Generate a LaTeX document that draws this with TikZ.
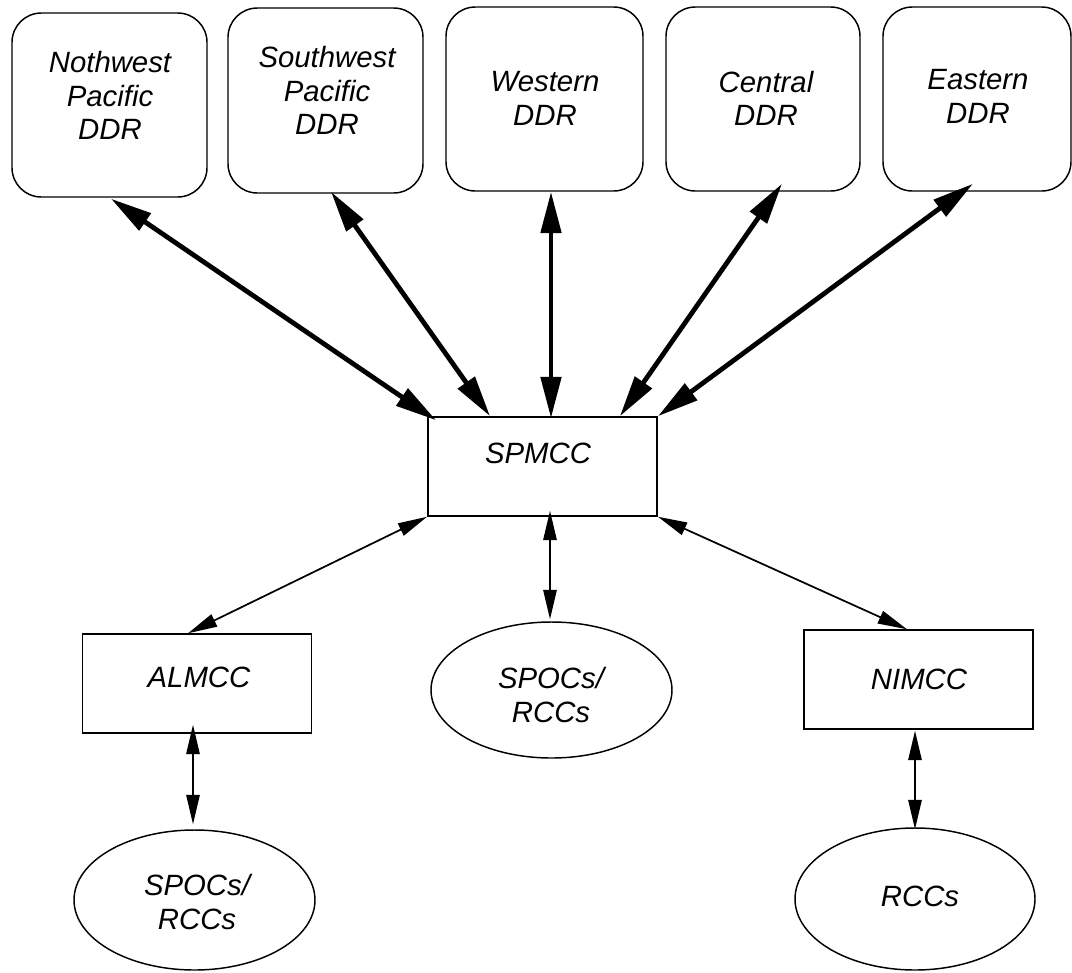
\documentclass[tikz,border=0pt]{standalone}
\usepackage{fontspec}
\setmainfont{Liberation Sans}
\usetikzlibrary{arrows.meta,shapes.geometric,calc}

\begin{document}
\begin{tikzpicture}[x=0.75pt,y=-0.75pt,
  lbl/.style={font=\fontsize{22}{25}\selectfont\itshape, align=center, inner sep=0pt},
  ddr/.style={draw, line width=1.1pt, rounded corners=22pt, inner sep=0pt, minimum height=138pt},
  ctr/.style={draw, line width=1.1pt, inner sep=0pt, minimum width=172pt, minimum height=74.25pt},
  oval/.style={draw, ellipse, line width=1.1pt, inner sep=0pt, minimum width=180.75pt},
  heavy/.style={line width=3.6pt, {Triangle[length=31pt,width=15pt]}-{Triangle[length=31pt,width=15pt]}},
  light/.style={line width=1.3pt, {Triangle[length=22pt,width=10pt]}-{Triangle[length=22pt,width=10pt]}},
]
\useasboundingbox (0,0) rectangle (1072,972);

% regional centres
\node[ddr, minimum width=146.25pt] (b1) at (109.5,105) {};
\node[ddr, minimum width=146.25pt, minimum height=138.75pt] (b2) at (325.5,100.5) {};
\node[ddr, minimum width=147.75pt] (b3) at (544.5,99) {};
\node[ddr, minimum width=145.5pt] (b4) at (763,99) {};
\node[ddr, minimum width=141pt] (b5) at (977,99) {};

\node[lbl] (t1) at (110,95.5) {Nothwest\\Pacific\\DDR};
\node[lbl] (t2) at (327,90.5) {Southwest\\Pacific\\DDR};
\node[lbl] (t3) at (545,98.5) {Western\\DDR};
\node[lbl] (t4) at (766,98.5) {Central\\DDR};
\node[lbl] (t5) at (978,96.5) {Eastern\\DDR};

% mission control centres
\node[ctr] (spmcc) at (542.5,466.5) {};
\node[lbl] (tsp) at (538,453) {SPMCC};
\node[ctr] (almcc) at (197,683.5) {};
\node[lbl] (tal) at (199,677) {ALMCC};
\node[ctr] (nimcc) at (918.5,679.5) {};
\node[lbl] (tni) at (919,679) {NIMCC};

% points of contact
\node[oval, minimum height=102pt] (mid) at (551.5,690) {};
\node[lbl] (tmid) at (551,695) {SPOCs/\\RCCs};
\node[oval, minimum height=105pt] (bl) at (194.5,900) {};
\node[lbl] (tbl) at (197,902) {SPOCs/\\RCCs};
\node[oval, minimum width=180pt, minimum height=106.5pt] (br) at (915,899) {};
\node[lbl] (tbr) at (920,896) {RCCs};

% links to the data distribution regions
\draw[heavy] ($(b1.south)+(1.5,1)$) -- ($(spmcc.north west)+(9,4)$);
\draw[heavy] ($(b2.south)+(5.5,-2)$) -- ($(spmcc.north west)+(63,0)$);
\draw[heavy] ($(b3.south)+(6.5,0)$) -- ($(spmcc.north)+(8.5,2)$);
\draw[heavy] ($(b4.south)+(19,-8)$) -- ($(spmcc.north east)+(-38,0)$);
\draw[heavy] ($(b5.south)+(-4,-8)$) -- (spmcc.north east);

% links below the SPMCC
\draw[light] ($(spmcc.south)+(7.5,-6)$) -- ($(mid.north)+(-1.5,-2)$);
\draw[light] (spmcc.south west) -- ($(almcc.north)+(-9,0)$);
\draw[light] (spmcc.south east) -- ($(nimcc.north)+(-11.5,0)$);
\draw[light] ($(almcc.south)+(-4,-9)$) -- ($(bl.north)+(-1.5,-5)$);
\draw[light] ($(nimcc.south)+(-3.5,1)$) -- ($(br.north)+(0,2)$);
\end{tikzpicture}
\end{document}
